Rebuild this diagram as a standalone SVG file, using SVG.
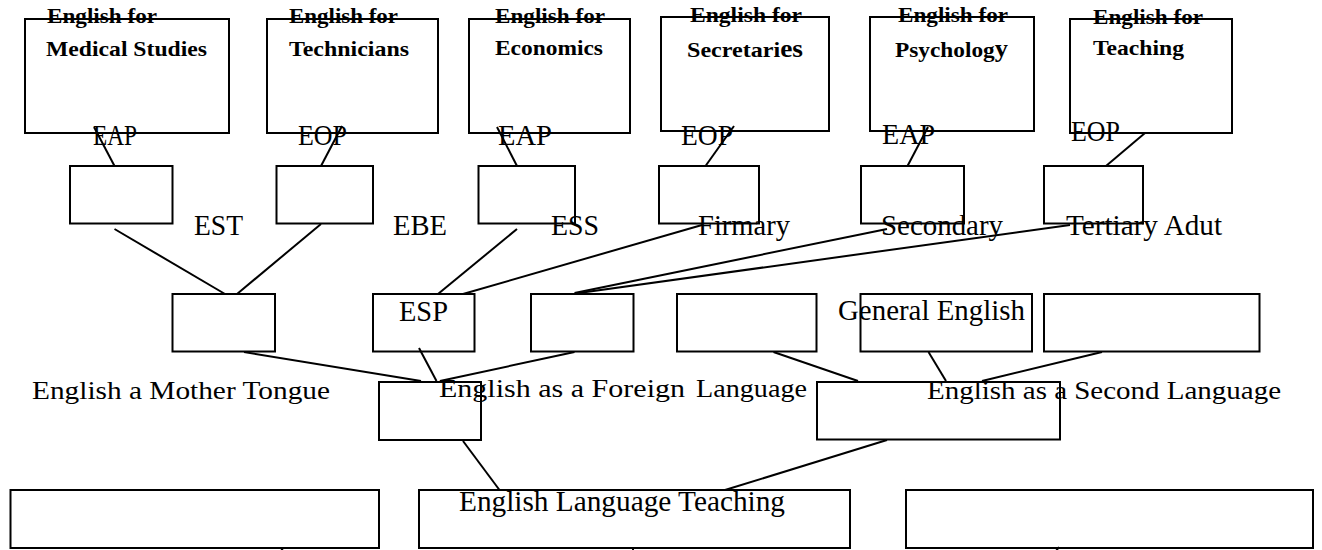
<svg xmlns="http://www.w3.org/2000/svg" width="1322" height="550" viewBox="0 0 1322 550">
<style>
.box{fill:none;stroke:#000;stroke-width:2}
.ln{stroke:#000;stroke-width:2;fill:none}
.b{font-family:"Liberation Serif","Times New Roman",serif;font-weight:bold;font-size:22px;fill:#000}
.t{font-family:"Liberation Serif","Times New Roman",serif;font-size:30px;fill:#000}
.s{font-size:26px}
</style>
<rect width="1322" height="550" fill="#fff"/>
<g id="connectors">
<line class="ln" x1="94" y1="127" x2="114.5" y2="166"/>
<line class="ln" x1="342" y1="126" x2="321" y2="166"/>
<line class="ln" x1="497" y1="127" x2="517" y2="166"/>
<line class="ln" x1="734" y1="126" x2="705.5" y2="166"/>
<line class="ln" x1="928" y1="127" x2="907.5" y2="166"/>
<line class="ln" x1="1145" y1="133" x2="1106" y2="166"/>
<line class="ln" x1="114.5" y1="229" x2="225" y2="294"/>
<line class="ln" x1="321" y1="224" x2="237" y2="294"/>
<line class="ln" x1="517" y1="229" x2="438" y2="294"/>
<line class="ln" x1="702" y1="225" x2="463" y2="294"/>
<line class="ln" x1="887" y1="229" x2="574.5" y2="293"/>
<line class="ln" x1="1070" y1="225" x2="579" y2="293"/>
<line class="ln" x1="244" y1="352" x2="421" y2="381"/>
<line class="ln" x1="419" y1="348" x2="436.5" y2="381"/>
<line class="ln" x1="574.5" y1="352" x2="440" y2="381"/>
<line class="ln" x1="773.5" y1="352" x2="858" y2="381"/>
<line class="ln" x1="928.5" y1="352" x2="946" y2="381"/>
<line class="ln" x1="1102" y1="352" x2="982" y2="381"/>
<line class="ln" x1="463" y1="441" x2="499.5" y2="490"/>
<line class="ln" x1="887" y1="440" x2="725" y2="490"/>
<line class="ln" x1="281" y1="548" x2="283" y2="551"/>
<line class="ln" x1="633" y1="547" x2="633" y2="551"/>
<line class="ln" x1="1059" y1="547" x2="1056" y2="551"/>
</g>
<g id="n-medical"><rect class="box" x="25" y="19" width="204" height="114"/><text class="b" x="47" y="23" textLength="110" lengthAdjust="spacingAndGlyphs">English for</text><text class="b" x="46" y="56" textLength="161" lengthAdjust="spacingAndGlyphs">Medical Studies</text></g>
<g id="n-technicians"><rect class="box" x="267" y="19" width="171" height="114"/><text class="b" x="289" y="23" textLength="109" lengthAdjust="spacingAndGlyphs">English for</text><text class="b" x="289" y="56" textLength="120" lengthAdjust="spacingAndGlyphs">Technicians</text></g>
<g id="n-economics"><rect class="box" x="469" y="19" width="161" height="114"/><text class="b" x="495" y="23" textLength="110" lengthAdjust="spacingAndGlyphs">English for</text><text class="b" x="495" y="55" textLength="108" lengthAdjust="spacingAndGlyphs">Economics</text></g>
<g id="n-secretaries"><rect class="box" x="661" y="17" width="168" height="114"/><text class="b" x="690" y="22" textLength="112" lengthAdjust="spacingAndGlyphs">English for</text><text class="b" x="687" y="57" textLength="116" lengthAdjust="spacingAndGlyphs">Secretari<tspan font-size="25">es</tspan></text></g>
<g id="n-psychology"><rect class="box" x="870" y="17" width="164" height="114"/><text class="b" x="898" y="22" textLength="110" lengthAdjust="spacingAndGlyphs">English for</text><text class="b" x="895" y="57" textLength="113" lengthAdjust="spacingAndGlyphs">Psycholog<tspan font-size="25">y</tspan></text></g>
<g id="n-teaching"><rect class="box" x="1070" y="19" width="162" height="114"/><text class="b" x="1093" y="24" textLength="110" lengthAdjust="spacingAndGlyphs">English for</text><text class="b" x="1093" y="55" textLength="91" lengthAdjust="spacingAndGlyphs">Teaching</text></g>
<g id="l-eap1"><text class="t" x="93" y="145" textLength="44" lengthAdjust="spacingAndGlyphs">EAP</text></g>
<g id="l-eop2"><text class="t" x="298" y="145" textLength="49" lengthAdjust="spacingAndGlyphs">EOP</text></g>
<g id="l-eap3"><text class="t" x="498" y="145" textLength="54" lengthAdjust="spacingAndGlyphs">EAP</text></g>
<g id="l-eop4"><text class="t" x="681" y="145" textLength="52" lengthAdjust="spacingAndGlyphs">EOP</text></g>
<g id="l-eap5"><text class="t" x="882" y="144" textLength="53" lengthAdjust="spacingAndGlyphs">EAP</text></g>
<g id="l-eop6"><text class="t" x="1071" y="141" font-size="24" textLength="49" lengthAdjust="spacingAndGlyphs">EOP</text></g>
<g id="n-est"><rect class="box" x="70" y="166" width="102.5" height="57.5"/><text class="t" x="194" y="235" textLength="49" lengthAdjust="spacingAndGlyphs">EST</text></g>
<g id="n-ebe"><rect class="box" x="276.5" y="166" width="96.5" height="57.5"/><text class="t" x="393" y="235" textLength="54" lengthAdjust="spacingAndGlyphs">EBE</text></g>
<g id="n-ess"><rect class="box" x="478.5" y="166" width="96.5" height="57.5"/><text class="t" x="551" y="235" textLength="48" lengthAdjust="spacingAndGlyphs">ESS</text></g>
<g id="n-primary"><rect class="box" x="659" y="166" width="100" height="57.5"/><text class="t" x="698" y="235" textLength="92" lengthAdjust="spacingAndGlyphs">Firmary</text></g>
<g id="n-secondary"><rect class="box" x="861" y="166" width="103" height="57.5"/><text class="t" x="881" y="235" textLength="122" lengthAdjust="spacingAndGlyphs">Secondary</text></g>
<g id="n-tertiary"><rect class="box" x="1044" y="166" width="99" height="57.5"/><text class="t" x="1066" y="235" textLength="156" lengthAdjust="spacingAndGlyphs">Tertiary Adut</text></g>
<g id="n-d1"><rect class="box" x="172.5" y="294" width="102.5" height="57.5"/></g>
<g id="n-esp"><rect class="box" x="373" y="294" width="101.5" height="57.5"/><text class="t" x="399" y="321" textLength="49" lengthAdjust="spacingAndGlyphs">ESP</text></g>
<g id="n-d3"><rect class="box" x="531" y="294" width="102.5" height="57.5"/></g>
<g id="n-d4"><rect class="box" x="677" y="294" width="139.5" height="57.5"/></g>
<g id="n-general"><rect class="box" x="860.5" y="294" width="171.5" height="57.5"/><text class="t" x="838" y="320" font-size="28" textLength="187" lengthAdjust="spacingAndGlyphs">General English</text></g>
<g id="n-d6"><rect class="box" x="1044" y="294" width="215.5" height="57.5"/></g>
<g id="l-emt"><text class="t s" x="32" y="399" textLength="298" lengthAdjust="spacingAndGlyphs">English a Mother Tongue</text></g>
<g id="n-efl"><rect class="box" x="379" y="382" width="102" height="58"/><text class="t s" x="439" y="397" textLength="246" lengthAdjust="spacingAndGlyphs">English as a Foreign</text><text class="t s" x="696" y="397" textLength="111" lengthAdjust="spacingAndGlyphs">Language</text></g>
<g id="n-esl"><rect class="box" x="817" y="382" width="243" height="57.5"/><text class="t s" x="927" y="399" textLength="354" lengthAdjust="spacingAndGlyphs">English as a Second Language</text></g>
<g id="n-f1"><rect class="box" x="10.5" y="490" width="368.5" height="58"/></g>
<g id="n-elt"><rect class="box" x="419" y="490" width="431" height="58"/><text class="t" x="459" y="511" font-size="27" textLength="326" lengthAdjust="spacingAndGlyphs">English Language Teaching</text></g>
<g id="n-f3"><rect class="box" x="906" y="490" width="407" height="58"/></g>
</svg>
